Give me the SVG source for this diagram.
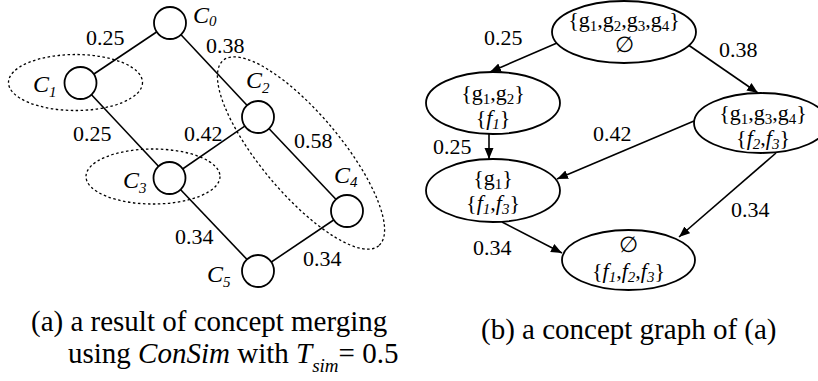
<svg xmlns="http://www.w3.org/2000/svg" width="818" height="381" viewBox="0 0 818 381" font-family="'Liberation Serif', 'Times New Roman', Times, 'DejaVu Serif', serif">
<style>
text{font-family:'Liberation Serif','Times New Roman',Times,serif;fill:#000}
.num{font-size:22px}
.cl{font-size:24px;font-style:italic}
.nt{font-size:22px;text-anchor:middle}
.cap{font-size:29px}
.it{font-style:italic}
.sub{font-size:15px}
.edge{stroke:#000;stroke-width:1.6;fill:none}
.arc{stroke:#000;stroke-width:1.6;fill:none;marker-end:url(#ah)}
.circ{fill:#fff;stroke:#000;stroke-width:1.8}
.ell{fill:#fff;stroke:#000;stroke-width:1.8}
.dot{fill:none;stroke:#000;stroke-width:1.3;stroke-dasharray:2.5 2.5}
</style>
<defs>
<marker id="ah" markerUnits="userSpaceOnUse" markerWidth="12" markerHeight="10" refX="11" refY="5" orient="auto">
<path d="M0,0.5 L11,5 L0,9.5 z" fill="#000"/>
</marker>
</defs>

<!-- (a) left panel -->
<g id="connectors-a">
<line class="edge" x1="170" y1="23" x2="80.5" y2="83"/>
<line class="edge" x1="170" y1="23" x2="258" y2="117"/>
<line class="edge" x1="80.5" y1="83" x2="169.5" y2="178"/>
<line class="edge" x1="258" y1="117" x2="169.5" y2="178"/>
<line class="edge" x1="258" y1="117" x2="347" y2="211"/>
<line class="edge" x1="169.5" y1="178" x2="258" y2="271"/>
<line class="edge" x1="347" y1="211" x2="258" y2="271"/>
</g>
<g id="groups-a">
<ellipse class="dot" cx="75.5" cy="82.5" rx="67" ry="28"/>
<ellipse class="dot" cx="153" cy="176.5" rx="67" ry="27.5"/>
<ellipse class="dot" cx="0" cy="0" rx="121" ry="40" transform="translate(301,153) rotate(50)"/>
</g>
<g id="C0"><circle class="circ" cx="170" cy="23" r="16"/><text class="cl" x="193" y="23">C<tspan class="sub" dy="3">0</tspan></text></g>
<g id="C1"><circle class="circ" cx="80.5" cy="83" r="16"/><text class="cl" x="33" y="92">C<tspan class="sub" dy="5">1</tspan></text></g>
<g id="C2"><circle class="circ" cx="258" cy="117" r="16"/><text class="cl" x="246" y="88">C<tspan class="sub" dy="5">2</tspan></text></g>
<g id="C3"><circle class="circ" cx="169.5" cy="178" r="16"/><text class="cl" x="123" y="188">C<tspan class="sub" dy="5">3</tspan></text></g>
<g id="C4"><circle class="circ" cx="347" cy="211" r="16"/><text class="cl" x="334" y="183">C<tspan class="sub" dy="4">4</tspan></text></g>
<g id="C5"><circle class="circ" cx="258" cy="271" r="16"/><text class="cl" x="207" y="282">C<tspan class="sub" dy="5">5</tspan></text></g>
<g id="labels-a">
<text class="num" x="86" y="45">0.25</text>
<text class="num" x="206" y="53">0.38</text>
<text class="num" x="73" y="141">0.25</text>
<text class="num" x="184" y="141">0.42</text>
<text class="num" x="294" y="148">0.58</text>
<text class="num" x="175" y="244">0.34</text>
<text class="num" x="303" y="266">0.34</text>
</g>

<!-- (b) right panel -->
<g id="connectors-b">
<line class="arc" x1="557" y1="43" x2="490" y2="72"/>
<line class="arc" x1="684" y1="42" x2="758" y2="93"/>
<line class="arc" x1="489" y1="134" x2="489" y2="159"/>
<line class="arc" x1="694" y1="121" x2="557" y2="179"/>
<line class="arc" x1="776" y1="153" x2="679" y2="237"/>
<line class="arc" x1="502" y1="222" x2="562" y2="253"/>
</g>
<g id="N0"><ellipse class="ell" cx="624" cy="32" rx="72" ry="31"/>
<text class="nt" x="624" y="27">{g<tspan class="sub" dy="4">1</tspan><tspan dy="-4">,g</tspan><tspan class="sub" dy="4">2</tspan><tspan dy="-4">,g</tspan><tspan class="sub" dy="4">3</tspan><tspan dy="-4">,g</tspan><tspan class="sub" dy="4">4</tspan><tspan dy="-4">}</tspan></text>
<text class="nt" x="624" y="52">∅</text></g>
<g id="N1"><ellipse class="ell" cx="493" cy="103" rx="67" ry="31"/>
<text class="nt" x="493" y="100">{g<tspan class="sub" dy="4">1</tspan><tspan dy="-4">,g</tspan><tspan class="sub" dy="4">2</tspan><tspan dy="-4">}</tspan></text>
<text class="nt" x="493" y="125">{<tspan class="it">f</tspan><tspan class="sub it" dy="4">1</tspan><tspan dy="-4">}</tspan></text></g>
<g id="N2"><ellipse class="ell" cx="761" cy="123" rx="67" ry="30"/>
<text class="nt" x="763" y="120">{g<tspan class="sub" dy="4">1</tspan><tspan dy="-4">,g</tspan><tspan class="sub" dy="4">3</tspan><tspan dy="-4">,g</tspan><tspan class="sub" dy="4">4</tspan><tspan dy="-4">}</tspan></text>
<text class="nt" x="763" y="145">{<tspan class="it">f</tspan><tspan class="sub it" dy="4">2</tspan><tspan dy="-4">,</tspan><tspan class="it">f</tspan><tspan class="sub it" dy="4">3</tspan><tspan dy="-4">}</tspan></text></g>
<g id="N3"><ellipse class="ell" cx="493" cy="190.5" rx="67" ry="31.5"/>
<text class="nt" x="493" y="185">{g<tspan class="sub" dy="4">1</tspan><tspan dy="-4">}</tspan></text>
<text class="nt" x="493" y="210">{<tspan class="it">f</tspan><tspan class="sub it" dy="4">1</tspan><tspan dy="-4">,</tspan><tspan class="it">f</tspan><tspan class="sub it" dy="4">3</tspan><tspan dy="-4">}</tspan></text></g>
<g id="N4"><ellipse class="ell" cx="628.5" cy="260" rx="66.5" ry="30"/>
<text class="nt" x="628.5" y="252">∅</text>
<text class="nt" x="628.5" y="278">{<tspan class="it">f</tspan><tspan class="sub it" dy="4">1</tspan><tspan dy="-4">,</tspan><tspan class="it">f</tspan><tspan class="sub it" dy="4">2</tspan><tspan dy="-4">,</tspan><tspan class="it">f</tspan><tspan class="sub it" dy="4">3</tspan><tspan dy="-4">}</tspan></text></g>
<g id="labels-b">
<text class="num" x="484" y="45">0.25</text>
<text class="num" x="719" y="57">0.38</text>
<text class="num" x="593" y="141">0.42</text>
<text class="num" x="433" y="154">0.25</text>
<text class="num" x="731" y="217">0.34</text>
<text class="num" x="473" y="255">0.34</text>
</g>

<g id="captions">
<text class="cap" x="31" y="331">(a) a result of concept merging</text>
<text class="cap" x="68" y="363">using <tspan class="it">ConSim</tspan> with <tspan class="it">T</tspan><tspan class="it" font-size="19" dy="9">sim</tspan><tspan dy="-9">= 0.5</tspan></text>
<text class="cap" x="481" y="339">(b) a concept graph of (a)</text>
</g>
</svg>
